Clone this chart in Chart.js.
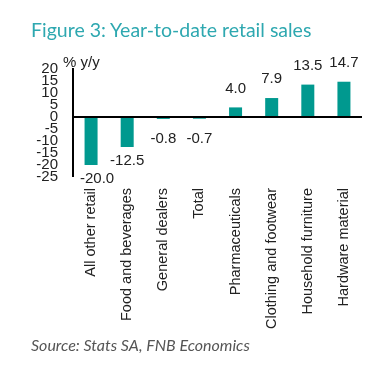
<!DOCTYPE html>
<html>
<head>
<meta charset="utf-8">
<script src="https://cdn.jsdelivr.net/npm/chart.js@4.4.1/dist/chart.umd.min.js"></script>
<style>
  html, body { margin: 0; padding: 0; background: #fff; }
  body { width: 377px; height: 378px; position: relative; overflow: hidden; }
  #title { position: absolute; left: 31px; top: 18px; font-family: Lato, "Open Sans", sans-serif; font-size: 19.5px; color: #2ea8b0; white-space: nowrap; }
  #source { position: absolute; left: 31px; top: 335px; font-family: Lato, "Open Sans", sans-serif; font-style: italic; font-size: 16px; color: #555; white-space: nowrap; }
  #wrap { position: absolute; left: 0; top: 0; width: 377px; height: 378px; }
</style>
</head>
<body>
<div id="wrap"><canvas id="c" width="377" height="378"></canvas></div>
<div id="title">Figure 3: Year-to-date retail sales</div>
<div id="source">Source: Stats SA, FNB Economics</div>
<script>
const categories = ["All other retail", "Food and beverages", "General dealers", "Total", "Pharmaceuticals", "Clothing and footwear", "Household furniture", "Hardware material"];
const values = [-20.0, -12.5, -0.8, -0.7, 4.0, 7.9, 13.5, 14.7];
const yTicks = [20, 15, 10, 5, 0, -5, -10, -15, -20, -25];
const yAxisTitle = "% y/y";

const FONT = '"Liberation Sans", Arial, sans-serif';

const extras = {
  id: 'extras',
  afterDatasetsDraw(chart) {
    const ctx = chart.ctx;
    const meta = chart.getDatasetMeta(0);
    const y = chart.scales.y;
    const zeroY = y.getPixelForValue(0);
    ctx.save();
    ctx.font = '15px ' + FONT;
    ctx.fillStyle = '#222';
    ctx.textAlign = 'center';
    ctx.textBaseline = 'middle';
    meta.data.forEach((bar, i) => {
      const v = values[i];
      const txt = v.toFixed(1);
      const w = ctx.measureText(txt).width;
      const end = y.getPixelForValue(v);
      let ty;
      if (v >= 0) ty = end - 19;
      else ty = Math.max(end + 13.5, zeroY + 22);
      const tx = Math.max(bar.x, chart.chartArea.left + 7 + w / 2);
      ctx.fillText(txt, tx, ty);
    });
    ctx.textAlign = 'left';
    ctx.fillText(yAxisTitle, chart.chartArea.left - 10, chart.chartArea.top - 6);
    ctx.restore();
  }
};

new Chart(document.getElementById('c'), {
  type: 'bar',
  data: {
    labels: categories,
    datasets: [{
      data: values,
      backgroundColor: '#00998f',
      borderWidth: 0,
      categoryPercentage: 1.0,
      barPercentage: 0.36
    }]
  },
  options: {
    responsive: false,
    animation: false,
    devicePixelRatio: 1,
    layout: { padding: { top: 69, left: 0, right: 15, bottom: 46 } },
    plugins: { legend: { display: false }, tooltip: { enabled: false }, title: { display: false } },
    scales: {
      x: {
        grid: { display: false, drawTicks: false },
        border: { display: false },
        ticks: {
          autoSkip: false, minRotation: 90, maxRotation: 90, padding: 11,
          color: '#222', font: { family: FONT, size: 14.5 }
        },
        afterFit(scale) { scale.height = 155; }
      },
      y: {
        min: -25, max: 20,
        afterBuildTicks(scale) { scale.ticks = yTicks.map(v => ({ value: v })); },
        afterFit(scale) { scale.width = 73; },
        border: { display: true, color: '#000', width: 2 },
        grid: {
          drawTicks: false,
          lineWidth: ctx => (ctx.tick && ctx.tick.value === 0 ? 2 : 0),
          color: ctx => (ctx.tick && ctx.tick.value === 0 ? '#000' : 'rgba(0,0,0,0)')
        },
        ticks: {
          autoSkip: false, padding: 15, color: '#222',
          font: { family: FONT, size: 15 }
        }
      }
    }
  },
  plugins: [extras]
});
</script>
</body>
</html>
